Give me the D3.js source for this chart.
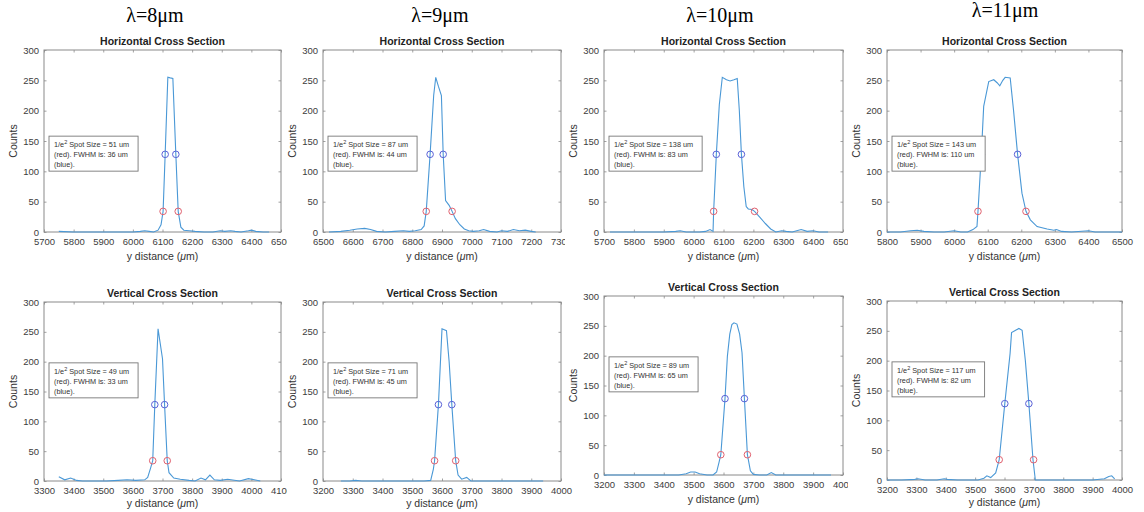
<!DOCTYPE html>
<html>
<head>
<meta charset="utf-8">
<script src="https://cdn.jsdelivr.net/npm/d3@7"></script>
<style>
  body { margin: 0; background: #fff; }
  svg { display: block; }
  .tick text { font-family: "Liberation Sans", Arial, sans-serif; font-size: 9.5px; fill: #3c3c3c; }
</style>
</head>
<body>
<div id="chart"></div>
<script>
// wavelength headers over each column
const lambdas = ["λ=8μm", "λ=9μm", "λ=10μm", "λ=11μm"];
const titles = ["Horizontal Cross Section", "Vertical Cross Section"];

// x ranges for each panel (top row then bottom row)
const xDomains = [[5700, 6500], [6500, 7300], [5700, 6500], [5800, 6500],
                  [3300, 4100], [3200, 4000], [3200, 4000], [3200, 4000]];
const yTicks = [0, 50, 100, 150, 200, 250, 300];

const spotSizes = [51, 87, 138, 143, 49, 71, 89, 117];
const fwhms = [36, 44, 83, 110, 33, 45, 65, 82];

// positions of the 1/e^2 (red) and half max (blue) markers
const redX = [[6102, 6153], [6847, 6934], [6067, 6204], [6071, 6214],
              [3667, 3716], [3575, 3646], [3591, 3680], [3582, 3699]];
const blueX = [[6109, 6145], [6860, 6904], [6076, 6160], [6081, 6189],
               [3674, 3707], [3588, 3633], [3605, 3670], [3601, 3683]];
const redLevel = 34;
const blueLevel = 128;

// horizontal profiles
const h8x = [5750,5800,5850,5900,5950,6000,6025,6040,6055,6070,6085,6095,6102,6109,6118,6126,6135,6145,6153,6162,6172,6190,6210,6240,6270,6295,6310,6330,6345,6365,6390,6400,6415,6440,6460];
const h8y = [1,0,0,0,0,0,1,2,1,0,3,12,34,128,255,254,253,128,34,8,3,2,1,0,0,2,1,2,1,0,2,3,1,0,0];
const h9x = [6520,6560,6590,6615,6640,6660,6680,6710,6740,6770,6790,6810,6830,6840,6847,6860,6872,6879,6888,6898,6904,6912,6924,6934,6945,6960,6975,6990,7005,7025,7040,7060,7085,7100,7120,7140,7160,7180,7200,7215];
const h9y = [0,1,3,5,6,4,1,0,1,2,1,2,4,10,34,128,225,255,240,225,128,52,44,34,22,12,5,2,1,2,4,1,0,2,1,4,2,3,1,0];
const h10x = [5720,5760,5800,5850,5900,5940,5955,5975,6000,6020,6040,6055,6065,6067,6076,6086,6096,6110,6122,6135,6146,6153,6160,6168,6176,6183,6195,6204,6222,6240,6258,6275,6295,6310,6330,6345,6360,6380,6400,6420,6450];
const h10y = [0,0,0,0,0,1,2,0,0,0,1,4,1,34,128,210,255,251,249,251,253,200,128,75,42,38,37,34,24,14,5,0,2,1,0,2,4,1,2,0,0];
const h11x = [5800,5840,5870,5890,5910,5940,5970,6000,6020,6040,6056,6068,6071,6081,6088,6103,6118,6128,6136,6145,6152,6167,6177,6189,6202,6214,6227,6247,6277,6297,6305,6320,6350,6400,6420,6450,6500];
const h11y = [0,0,2,3,1,0,0,2,0,0,4,9,34,128,207,248,251,246,241,250,255,254,200,128,64,34,20,9,5,3,4,1,0,2,0,0,0];

// vertical profiles
const v8x = [3350,3370,3390,3410,3430,3470,3510,3550,3580,3610,3640,3650,3660,3667,3674,3685,3700,3707,3716,3722,3738,3760,3790,3810,3830,3845,3860,3875,3895,3920,3960,3990,4010,4030];
const v8y = [7,2,5,1,0,0,0,1,2,1,2,6,22,34,128,255,205,128,34,14,5,3,1,0,5,2,10,2,1,3,0,4,2,0];
const v9x = [3260,3290,3310,3330,3370,3410,3450,3500,3540,3562,3571,3575,3588,3600,3615,3624,3633,3646,3654,3666,3683,3697,3720,3760,3800,3850,3900,3940];
const v9y = [0,0,1,0,0,0,0,0,0,1,20,34,128,255,252,200,128,34,10,3,6,0,0,0,0,0,0,0];
const v10x = [3200,3250,3300,3350,3400,3450,3475,3490,3505,3520,3545,3565,3577,3585,3591,3605,3613,3621,3628,3635,3645,3654,3662,3670,3680,3690,3700,3720,3745,3760,3775,3800,3850,3900,3960];
const v10y = [0,0,0,0,0,0,2,5,5,2,0,0,5,21,34,128,199,236,252,255,253,236,205,128,34,7,1,0,0,4,0,0,0,0,0];
const v11x = [3200,3250,3295,3305,3330,3370,3395,3405,3440,3480,3510,3530,3540,3553,3570,3582,3601,3619,3624,3638,3649,3660,3671,3683,3697,3705,3750,3800,3850,3900,3940,3955,3965,3975];
const v11y = [0,0,1,2,0,0,2,1,0,0,0,3,7,4,12,34,128,212,247,251,254,251,200,128,34,0,0,0,0,0,2,6,7,2];

const profilesX = [h8x, h9x, h10x, h11x, v8x, v9x, v10x, v11x];
const profilesY = [h8y, h9y, h10y, h11y, v8y, v9y, v10y, v11y];

// plot boxes in pixels; clip mimics the cropped right edge of some panels
const layout = [
    { l: 44, r: 281, t: 50, b: 232, clip: 287, lab: 28 },
    { l: 323, r: 561, t: 50, b: 232, clip: 565, lab: 28 },
    { l: 604, r: 843, t: 50, b: 232, clip: 848, lab: 28 },
    { l: 887, r: 1122, t: 50, b: 232, clip: 1144, lab: 28 },
    { l: 44, r: 281, t: 302, b: 481, clip: 287, lab: 26 },
    { l: 323, r: 561, t: 302, b: 481, clip: 580, lab: 26 },
    { l: 604, r: 843, t: 296, b: 475, clip: 848, lab: 28 },
    { l: 887, r: 1122, t: 301, b: 480, clip: 1144, lab: 26 }
];
const lambdaPos = [{ x: 155, y: 22 }, { x: 440, y: 22 }, { x: 720, y: 22 }, { x: 1005, y: 17 }];

const width = 1144;
const height = 512;
const lineColor = "#4a98d6";
const frameColor = "#8a8a8a";
const sans = "'Liberation Sans', Arial, sans-serif";

const svg = d3.select("#chart").append("svg")
    .attr("width", width)
    .attr("height", height);

svg.selectAll("text.lambda")
    .data(lambdas)
    .join("text")
    .attr("class", "lambda")
    .attr("x", (d, i) => lambdaPos[i].x)
    .attr("y", (d, i) => lambdaPos[i].y)
    .attr("text-anchor", "middle")
    .style("font-family", "'Liberation Serif', 'Times New Roman', serif")
    .style("font-size", "20px")
    .text(d => d);

layout.forEach((box, i) => drawPanel(box, i));

function drawPanel(box, i) {
    const clipId = "clip" + i;
    svg.append("clipPath").attr("id", clipId)
        .append("rect")
        .attr("x", box.l - 45).attr("y", box.t - 25)
        .attr("width", box.clip - box.l + 45).attr("height", 260);

    const g = svg.append("g").attr("clip-path", `url(#${clipId})`);

    const x = d3.scaleLinear().domain(xDomains[i]).range([box.l, box.r]);
    const y = d3.scaleLinear().domain([0, 300]).range([box.b, box.t]);
    const xTicks = d3.range(xDomains[i][0], xDomains[i][1] + 1, 100);

    // bottom axis with labels, top axis ticks only (inward)
    const bottom = g.append("g")
        .attr("transform", `translate(0,${box.b})`)
        .call(d3.axisBottom(x).tickValues(xTicks).tickSizeInner(-2.5).tickSizeOuter(0).tickPadding(6).tickFormat(d3.format("d")));
    const top = g.append("g")
        .attr("transform", `translate(0,${box.t})`)
        .call(d3.axisTop(x).tickValues(xTicks).tickSizeInner(-2.5).tickSizeOuter(0).tickFormat(""));
    const left = g.append("g")
        .attr("transform", `translate(${box.l},0)`)
        .call(d3.axisLeft(y).tickValues(yTicks).tickSizeInner(-2.5).tickSizeOuter(0).tickPadding(5));
    const right = g.append("g")
        .attr("transform", `translate(${box.r},0)`)
        .call(d3.axisRight(y).tickValues(yTicks).tickSizeInner(-2.5).tickSizeOuter(0).tickFormat(""));

    [bottom, top, left, right].forEach(a => {
        a.select(".domain").remove();
        a.selectAll(".tick line").attr("stroke", frameColor).attr("stroke-width", 0.8);
    });

    g.append("rect")
        .attr("x", box.l).attr("y", box.t)
        .attr("width", box.r - box.l).attr("height", box.b - box.t)
        .attr("fill", "none")
        .attr("stroke", frameColor)
        .attr("stroke-width", 1);

    // profile line
    const pts = profilesX[i].map((v, k) => [v, profilesY[i][k]]);
    g.append("path")
        .datum(pts)
        .attr("fill", "none")
        .attr("stroke", lineColor)
        .attr("stroke-width", 1.1)
        .attr("d", d3.line().x(d => x(d[0])).y(d => y(d[1])));

    // markers
    g.selectAll("circle.red")
        .data(redX[i])
        .join("circle")
        .attr("class", "red")
        .attr("cx", d => x(d)).attr("cy", y(redLevel)).attr("r", 3.3)
        .attr("fill", "none").attr("stroke", "#e0606e").attr("stroke-width", 1);
    g.selectAll("circle.blue")
        .data(blueX[i])
        .join("circle")
        .attr("class", "blue")
        .attr("cx", d => x(d)).attr("cy", y(blueLevel)).attr("r", 3.3)
        .attr("fill", "none").attr("stroke", "#5a62d8").attr("stroke-width", 1);

    // title
    g.append("text")
        .attr("x", (box.l + box.r) / 2)
        .attr("y", box.t - 5)
        .attr("text-anchor", "middle")
        .style("font-family", sans)
        .style("font-size", "10.5px")
        .style("font-weight", "bold")
        .attr("fill", "#222")
        .text(i < 4 ? titles[0] : titles[1]);

    // axis labels
    g.append("text")
        .attr("transform", `translate(${box.l - 27},${(box.t + box.b) / 2}) rotate(-90)`)
        .attr("text-anchor", "middle")
        .style("font-family", sans)
        .style("font-size", "10.5px")
        .attr("fill", "#333")
        .text("Counts");

    const xl = g.append("text")
        .attr("x", (box.l + box.r) / 2)
        .attr("y", box.b + box.lab)
        .attr("text-anchor", "middle")
        .style("font-family", sans)
        .style("font-size", "10.5px")
        .attr("fill", "#333");
    xl.append("tspan").text("y distance (");
    xl.append("tspan").style("font-style", "italic").text("μ");
    xl.append("tspan").text("m)");

    // annotation box
    const bx = box.l + 5;
    const by = y(i < 4 ? 158 : 198);
    const note = g.append("g").attr("transform", `translate(${bx},${by})`);
    const rect = note.append("rect").attr("fill", "#fff").attr("stroke", "#777").attr("stroke-width", 0.9);
    const txt = note.append("text")
        .style("font-family", sans)
        .style("font-size", "7.3px")
        .attr("fill", "#333");
    const l1 = txt.append("tspan").attr("x", 5).attr("y", 11);
    l1.append("tspan").text("1/e");
    l1.append("tspan").attr("dy", -3).style("font-size", "5.5px").text("2");
    l1.append("tspan").attr("dy", 3).text(` Spot Size = ${spotSizes[i]} um`);
    txt.append("tspan").attr("x", 5).attr("y", 21).text(`(red). FWHM is: ${fwhms[i]} um`);
    txt.append("tspan").attr("x", 5).attr("y", 31).text("(blue).");
    const bb = txt.node().getBBox();
    rect.attr("x", 0).attr("y", 0).attr("width", bb.width + 14).attr("height", 35);

    g.selectAll(".tick text").attr("fill", "#3c3c3c");
}
</script>
</body>
</html>
